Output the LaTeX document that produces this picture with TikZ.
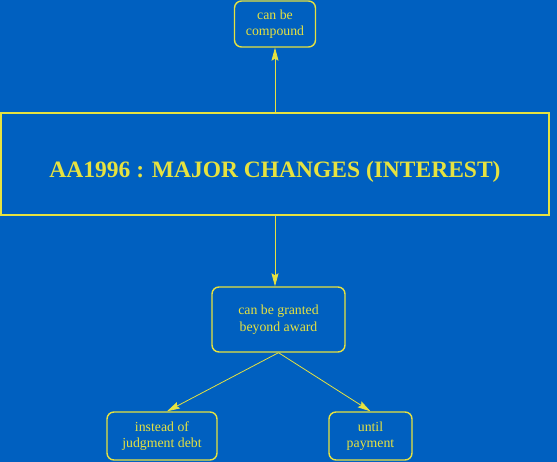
\documentclass[tikz,border=0pt]{standalone}
\usepackage{fontspec}
\setmainfont{Liberation Serif}
\usepackage{tikz}
\usetikzlibrary{positioning}
\usetikzlibrary{arrows.meta}
\definecolor{bgblue}{RGB}{0,96,192}
\definecolor{lineyel}{RGB}{230,226,64}
\tikzstyle{arn_main} = [rectangle, draw=lineyel, text=lineyel, font=\bfseries\fontsize{23.5}{26}\selectfont, align=center, inner sep=0pt, text height=27pt, text depth=0pt, minimum width=548pt, minimum height=102pt, line width=1.6pt]
\tikzstyle{arn_box} = [rectangle, rounded corners=7pt, draw=lineyel, text=lineyel, font=\fontsize{13.8}{16.5}\selectfont, align=center, inner sep=0pt, line width=1.4pt]
\tikzstyle{arn_link} = [draw=lineyel, line width=0.8pt, -{Stealth[length=13pt,width=7pt,inset=2pt]}]

\begin{document}
\begin{tikzpicture}[x=1pt,y=1pt]
\fill[bgblue] (0,0) rectangle (557,-462);
\useasboundingbox (0,0) rectangle (557,-462);
\node [arn_main] (main) at (275,-164) {AA1996 : MAJOR CHANGES (INTEREST)};
\node [arn_box, minimum width=81pt, minimum height=46pt] (compound) at (275,-24) {can be\\compound};
\node [arn_box, minimum width=133pt, minimum height=65pt] (granted) at (278.5,-319.5) {can be granted\\beyond award};
\node [arn_box, minimum width=110pt, minimum height=48pt] (judgment) at (162,-436) {instead of\\judgment debt};
\node [arn_box, minimum width=83pt, minimum height=48pt] (payment) at (370.5,-436) {until\\payment};
\draw [arn_link] (main.north) -- (compound.south);
\draw [arn_link] (main.south) -- (main.south |- granted.north);
\draw [arn_link] (granted.south) -- ([xshift=5pt]judgment.north);
\draw [arn_link] (granted.south) -- (payment.north);
\end{tikzpicture}
\end{document}
